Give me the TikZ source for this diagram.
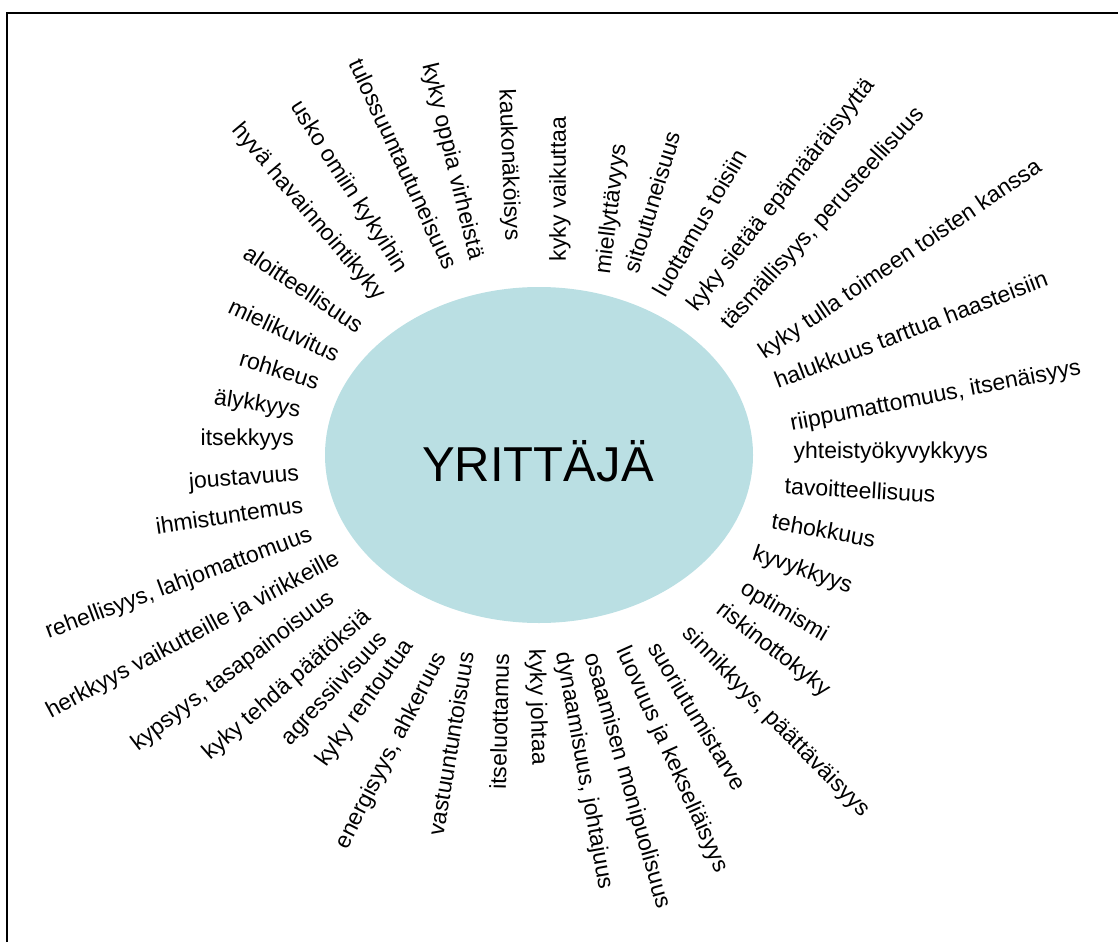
\documentclass[tikz,border=0pt]{standalone}
\usepackage{fontspec}
\setmainfont{Liberation Sans}
\definecolor{ellfill}{RGB}{186,223,227}
\tikzset{
  lbl/.style={font=\fontsize{23}{23}\selectfont, inner sep=0pt, text height=16.5pt, text depth=4.8pt, anchor=center},
  title/.style={font=\fontsize{49}{49}\selectfont, inner sep=0pt, anchor=base},
  frame/.style={line width=1.6pt, black},
  hub/.style={ellipse fill}
}
\begin{document}
\begin{tikzpicture}[x=1pt,y=-1pt]
\useasboundingbox (0,0) rectangle (1118,942);
\coordinate (fA) at (7,942);
\coordinate (fB) at (7,13);
\coordinate (fC) at (1118,13);
\draw[frame] (fA) -- (fB) -- (fC);
\fill[ellfill] (539,455) ellipse [x radius=214, y radius=168];
\node[title] (center) at (538,481.5) {YRITTÄJÄ};
% top, left of vertical
\node[lbl, rotate=-49.7] (l01) at (308,212) {hyvä havainnointikyky};
\node[lbl, rotate=-57.4] (l02) at (348.3,187.3) {usko omiin kykyihin};
\node[lbl, rotate=-65.3] (l03) at (401.7,165) {tulossuuntautuneisuus};
\node[lbl, rotate=-76.4] (l04) at (451.7,161.7) {kyky oppia virheistä};
\node[lbl, rotate=-87.6] (l05) at (508.3,165) {kaukonäköisys};
% top, right of vertical
\node[lbl, rotate=90] (l06) at (560,189) {kyky vaikuttaa};
\node[lbl, rotate=83] (l07) at (612,209) {miellyttävyys};
\node[lbl, rotate=73.2] (l08) at (654.3,202.7) {sitoutuneisuus};
\node[lbl, rotate=60] (l09) at (701.7,224) {luottamus toisiin};
\node[lbl, rotate=51.9] (l10) at (781.7,195.7) {kyky sietää epämääräisyyttä};
\node[lbl, rotate=48] (l11) at (823.3,219) {täsmällisyys, perusteellisuus};
\node[lbl, rotate=34.2] (l12) at (900.7,260) {kyky tulla toimeen toisten kanssa};
\node[lbl, rotate=20.9] (l13) at (911.7,331.7) {halukkuus tarttua haasteisiin};
\node[lbl, rotate=11] (l14) at (935.7,396.7) {riippumattomuus, itsenäisyys};
\node[lbl, rotate=0] (l15) at (890.7,452.3) {yhteistyökyvykkyys};
\node[lbl, rotate=-3.2] (l16) at (860,492.3) {tavoitteellisuus};
\node[lbl, rotate=-10.4] (l17) at (823.3,532.3) {tehokkuus};
\node[lbl, rotate=-19] (l18) at (802.3,570.7) {kyvykkyys};
\node[lbl, rotate=-30.6] (l19) at (784,612.3) {optimismi};
\node[lbl, rotate=-38] (l20) at (773,650) {riskinottokyky};
\node[lbl, rotate=-45.5] (l21) at (775.7,722.3) {sinnikkyys, päättäväisyys};
\node[lbl, rotate=-59] (l22) at (695.7,717.3) {suoriutumistarve};
\node[lbl, rotate=-65.9] (l23) at (671.7,760) {luovuus ja kekseliäisyys};
\node[lbl, rotate=-74] (l24) at (626.7,780.7) {osaamisen monipuolisuus};
\node[lbl, rotate=-79.6] (l25) at (583.3,770.7) {dynaamisuus, johtajuus};
\node[lbl, rotate=-88.3] (l26) at (536.7,707.3) {kyky johtaa};
% bottom, left of vertical
\node[lbl, rotate=88.6] (l27) at (501.7,721.7) {itseluottamus};
\node[lbl, rotate=80.5] (l28) at (453,744) {vastuuntuntoisuus};
\node[lbl, rotate=62.8] (l29) at (391.7,750.7) {energisyys, ahkeruus};
\node[lbl, rotate=54.4] (l30) at (365.7,703.3) {kyky rentoutua};
\node[lbl, rotate=47.4] (l31) at (335,689) {agressiivisuus};
\node[lbl, rotate=41.2] (l32) at (287.3,685.7) {kyky tehdä päätöksiä};
\node[lbl, rotate=37.3] (l33) at (233.3,671.7) {kypsyys, tasapainoisuus};
\node[lbl, rotate=28.1] (l34) at (193.3,635.7) {herkkyys vaikutteille ja virikkeille};
\node[lbl, rotate=20.4] (l35) at (179,584) {rehellisyys, lahjomattomuus};
\node[lbl, rotate=8.5] (l36) at (229.5,517.5) {ihmistuntemus};
\node[lbl, rotate=4.4] (l37) at (244,479) {joustavuus};
\node[lbl, rotate=0] (l38) at (247.3,440) {itsekkyys};
\node[lbl, rotate=-8.9] (l39) at (257.3,405) {älykkyys};
\node[lbl, rotate=-17.3] (l40) at (279,371.7) {rohkeus};
\node[lbl, rotate=-25] (l41) at (283.3,332.3) {mielikuvitus};
\node[lbl, rotate=-33.9] (l42) at (302.3,290.7) {aloitteellisuus};
\end{tikzpicture}
\end{document}
